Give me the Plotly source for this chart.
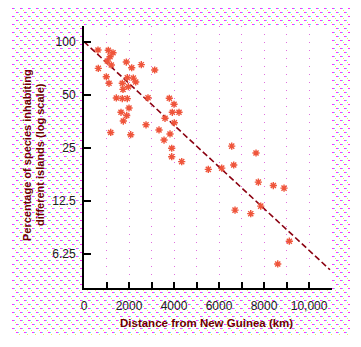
import base64
import plotly.graph_objects as go

# ---- data ----
distance_km = [622, 1080, 1289, 1156, 1036, 1213, 636, 1880, 2120, 2547, 3142,
               991, 1111, 1924, 2191, 1702, 1969, 2298, 1733, 1436, 1702, 1924,
               2844, 2000, 1644, 1898, 1747, 1187, 2076, 2756, 3333, 3556, 3791,
               4000, 3924, 4222, 3600, 4013, 3822, 3898, 3898, 4342, 5524, 6120,
               6564, 7644, 6653, 7747, 8413, 8889, 6711, 7409, 7853, 9124, 8609]
pct_species = [89.7, 89.4, 86.6, 82.2, 77.7, 73.8, 70.6, 76.7, 71.2, 74.1, 69.1,
               63.3, 58.1, 62.5, 62.2, 58.1, 55.6, 59.1, 53.7, 48.0, 47.6, 47.6,
               48.1, 42.1, 39.8, 38.2, 35.5, 30.6, 29.7, 33.8, 31.6, 27.7, 47.8,
               44.2, 39.8, 39.8, 36.8, 34.7, 30.0, 24.9, 22.3, 20.9, 18.9, 19.2,
               25.6, 23.4, 20.0, 16.0, 15.3, 14.8, 11.1, 10.6, 11.7, 7.4, 5.5]
fit_x = [0, 10930]
fit_y = [100, 5.1]

x_tickvals = [0, 1000, 2000, 3000, 4000, 5000, 6000, 7000, 8000, 9000, 10000]
x_ticktext = ["0", "", "2000", "", "4000", "", "6000", "", "8000", "", "10,000"]
y_tickvals = [6.25, 12.5, 25, 50, 100]
y_ticktext = ["6.25", "12.5", "25", "50", "100"]
y_title_lines = ["Percentage of species inhabiting", "different islands (log scale)"]
x_title = "Distance from New Guinea (km)"

FONT = "Liberation Sans, Arial, sans-serif"
TITLE_COLOR = "#6b0000"

fig = go.Figure()
fig.add_trace(go.Scatter(
    x=fit_x, y=fit_y, mode="lines",
    line=dict(color="#8a0010", width=1.6, dash="6px,3px"),
    hoverinfo="skip", showlegend=False))
fig.add_trace(go.Scatter(
    x=distance_km, y=pct_species, mode="markers",
    marker=dict(symbol="asterisk-open", size=6,
                line=dict(color="#ee0022", width=1.4)),
    showlegend=False))

# dotted pink background pattern
W, H = 338, 327
svg = (f"<svg xmlns='http://www.w3.org/2000/svg' width='{W}' height='{H}'>"
       "<defs><pattern id='p' width='8' height='8' patternUnits='userSpaceOnUse'>"
       "<rect x='0' y='0' width='2' height='1' fill='#ff30ff'/>"
       "<rect x='4' y='4' width='2' height='1' fill='#ff30ff'/>"
       "<rect x='2' y='0' width='1' height='1' fill='#60f0f0'/>"
       "<rect x='6' y='4' width='1' height='1' fill='#60f0f0'/>"
       "<rect x='3' y='2' width='1' height='1' fill='#f0f060'/>"
       "<rect x='7' y='6' width='1' height='1' fill='#f0f060'/>"
       "</pattern></defs><rect width='100%' height='100%' fill='url(#p)'/></svg>")
src = "data:image/svg+xml;base64," + base64.b64encode(svg.encode()).decode()

L, R, T, B = 84, 29, 26, 59
pw, ph = 361 - L - R, 347 - T - B

fig.add_layout_image(dict(
    source=src, xref="paper", yref="paper",
    x=(12 - L) / pw, y=(347 - B - 8) / ph,
    sizex=W / pw, sizey=H / ph, sizing="stretch",
    xanchor="left", yanchor="top", layer="below"))
fig.add_shape(type="rect", xref="paper", yref="paper", x0=0, x1=1, y0=0, y1=1,
              fillcolor="white", line=dict(width=0), layer="below")

annots = []
for txt, px in zip(y_title_lines, [27, 40]):
    annots.append(dict(text=f"<b>{txt}</b>", textangle=-90,
                       xref="paper", yref="paper",
                       x=(px - L) / pw, y=(347 - B - 155) / ph,
                       xanchor="center", yanchor="middle", showarrow=False,
                       font=dict(size=11, family=FONT, color=TITLE_COLOR)))
annots.append(dict(text=f"<b>{x_title}</b>", xref="paper", yref="paper",
                   x=(206 - L) / pw, y=(347 - B - 323) / ph,
                   xanchor="center", yanchor="middle", showarrow=False,
                   font=dict(size=11.5, family=FONT, color=TITLE_COLOR)))

fig.update_layout(
    width=361, height=347,
    margin=dict(l=L, r=R, t=T, b=B),
    paper_bgcolor="white", plot_bgcolor="white",
    font=dict(family=FONT, size=12, color="#202020"),
    xaxis=dict(range=[0, 11020], tickvals=x_tickvals, ticktext=x_ticktext,
               ticks="inside", ticklen=6, tickwidth=1.5, tickcolor="black",
               showline=True, linewidth=2, linecolor="black",
               showgrid=True, gridcolor="#e070e0", gridwidth=1, griddash="1px,7px",
               zeroline=False, ticklabelstandoff=6,
               tickfont=dict(size=12, family=FONT)),
    yaxis=dict(type="log", range=[0.604, 2.089],
               tickvals=y_tickvals, ticktext=y_ticktext,
               ticks="inside", ticklen=7, tickwidth=1.5, tickcolor="black",
               showline=True, linewidth=2, linecolor="black",
               showgrid=False, zeroline=False, ticklabelstandoff=4,
               tickfont=dict(size=12, family=FONT)),
    annotations=annots,
)

fig.write_html("out.html")
